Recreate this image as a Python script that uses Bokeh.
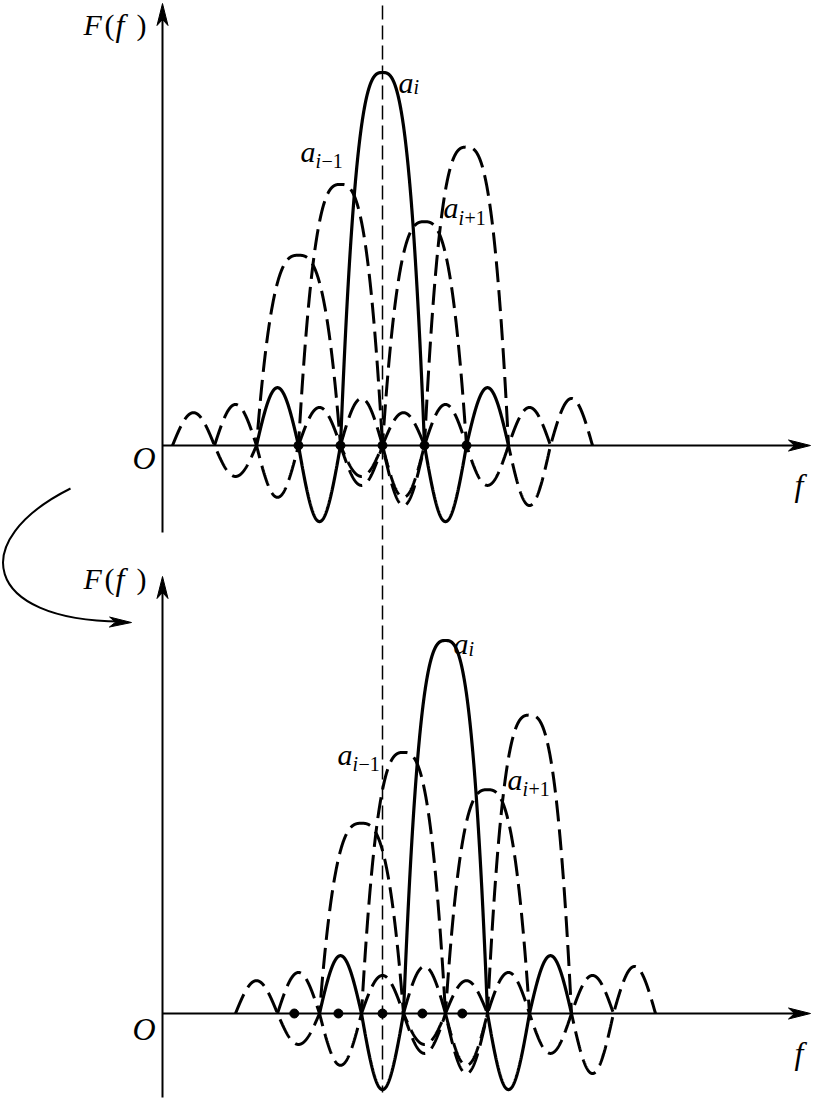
import numpy as np
from bokeh.plotting import figure
from bokeh.models import Range1d
from bokeh.core.properties import value
from bokeh.embed import file_html
from bokeh.resources import INLINE

# ---------------- data ----------------
carrier_index = [-2, -1, 0, 1, 2]                 # subcarriers a_{i-2} .. a_{i+2} (units of spacing)
carrier_amp = [0.51, 0.70, 1.00, 0.60, 0.80]      # main-lobe peak heights (a_i = 1)
first_sidelobe = [0.083, 0.139, 0.204, 0.107, 0.161]
second_sidelobe = [0.088, 0.110, 0.155, 0.102, 0.126]
carrier_dashed = [True, True, False, True, True]
top_sample_points = [-2, -1, 0, 1, 2]
bottom_sample_points = [-2.1, -1.05, 0, 0.95, 1.9]
doppler_shift = 1.5                               # shift of the lower spectrum (units of spacing)

# ---------------- layout (pixel frame of the picture) ----------------
W, H = 814, 1101
X0_PX, SP_PX = 382, 42
TOP_BASE_PX, BOT_BASE_PX, AMP_PX = 445, 1013, 373


def X(px):
    return (px - X0_PX) / SP_PX


def Y(py):
    return (TOP_BASE_PX - py) / AMP_PX


BOT_BASE = Y(BOT_BASE_PX)

p = figure(width=W, height=H, x_range=Range1d(X(0), X(W)), y_range=Range1d(Y(H), Y(0)),
           output_backend="svg", toolbar_location=None, min_border=0,
           x_axis_location=None, y_axis_location=None, outline_line_color=None,
           background_fill_color="white", border_fill_color="white")
p.grid.visible = False

FONT = value("Liberation Serif")


def lobe(u, A, s1, s2, pw=2.8):
    a = np.abs(u)
    return np.where(a <= 1, A * (1 - a ** pw),
                    np.where(a <= 2, -s1 * np.sin(np.pi * (a - 1)),
                             s2 * np.sin(np.pi * (a - 2))))


u = np.linspace(-3, 3, 1801)


def draw_panel(base, shift, dots):
    order = sorted(range(len(carrier_index)), key=lambda j: not carrier_dashed[j])
    for j in order:
        xs = carrier_index[j] + shift + u
        ys = base + lobe(u, carrier_amp[j], first_sidelobe[j], second_sidelobe[j])
        if carrier_dashed[j]:
            p.line(xs, ys, line_color="black", line_width=3, line_dash="21 8")
        else:
            p.line(xs, ys, line_color="black", line_width=3.2)
    p.scatter(dots, [base] * len(dots), size=9, color="black")


def arrow_head(tip, d, L=22, Wd=11, notch=6):
    d = np.array(d, float)
    d = d / np.hypot(*d)
    n = np.array([-d[1], d[0]])
    T = np.array(tip, float)
    B = T - L * d
    left = B + Wd / 2 * n
    right = B - Wd / 2 * n
    nt = T - (L - notch) * d
    pts = [T, left, nt, right]
    p.patch([X(q[0]) for q in pts], [Y(q[1]) for q in pts], color="black", line_width=1)


# axes
AX_PX = 162
for y_top_px, y_bot_px, base_px in [(3, 532, TOP_BASE_PX), (576, 1097, BOT_BASE_PX)]:
    p.line([X(AX_PX), X(AX_PX)], [Y(y_bot_px), Y(y_top_px + 10)], line_color="black", line_width=2)
    arrow_head((AX_PX, y_top_px), (0, -1))
    p.line([X(AX_PX), X(800)], [Y(base_px), Y(base_px)], line_color="black", line_width=2)
    arrow_head((810, base_px), (1, 0))

# vertical reference line
p.line([0, 0], [Y(5), Y(1092)], line_color="black", line_width=1.5, line_dash="14 6")

draw_panel(0.0, 0.0, top_sample_points)
draw_panel(BOT_BASE, doppler_shift, bottom_sample_points)

# curved arrow
P0, P1, P2, P3 = (70, 488), (-34, 540), (-18, 620), (120, 621)
p.bezier(x0=[X(P0[0])], y0=[Y(P0[1])], x1=[X(P3[0])], y1=[Y(P3[1])],
         cx0=[X(P1[0])], cy0=[Y(P1[1])], cx1=[X(P2[0])], cy1=[Y(P2[1])],
         line_color="black", line_width=2)
arrow_head((131, 622), (142, 3), L=22, Wd=10, notch=6)


def txt(xp, yp, s, size, italic=True):
    p.text(x=[X(xp)], y=[Y(yp)], text=[s], text_font=FONT,
           text_font_style="italic" if italic else "normal",
           text_font_size=size, text_align="left", text_baseline="alphabetic",
           text_color="black")


# F(f) labels
for dy in (24, 578):
    txt(83, dy, "F", "30px")
    txt(104, dy, "(", "30px", italic=False)
    txt(115, dy, "f", "32px")
    txt(136, dy, ")", "30px", italic=False)

# O and f labels
txt(132, 457, "O", "32px")
txt(132, 1028, "O", "32px")
txt(794, 484, "f", "32px")
txt(794, 1052, "f", "32px")


def sub_label(ax, ay, sub_it, sub_rest, drop):
    txt(ax, ay, "a", "30px")
    txt(ax + 15, ay + drop, sub_it, "20px")
    if sub_rest:
        txt(ax + 21, ay + drop, sub_rest, "20px", italic=False)


sub_label(398, 82, "i", "", 4)
sub_label(300, 151, "i", "\u22121", 9)
sub_label(443, 207, "i", "+1", 10)
sub_label(453, 643, "i", "", 5)
sub_label(337, 754, "i", "\u22121", 9)
sub_label(507, 779, "i", "+1", 9)

open("out.html", "w").write(file_html(p, INLINE))
